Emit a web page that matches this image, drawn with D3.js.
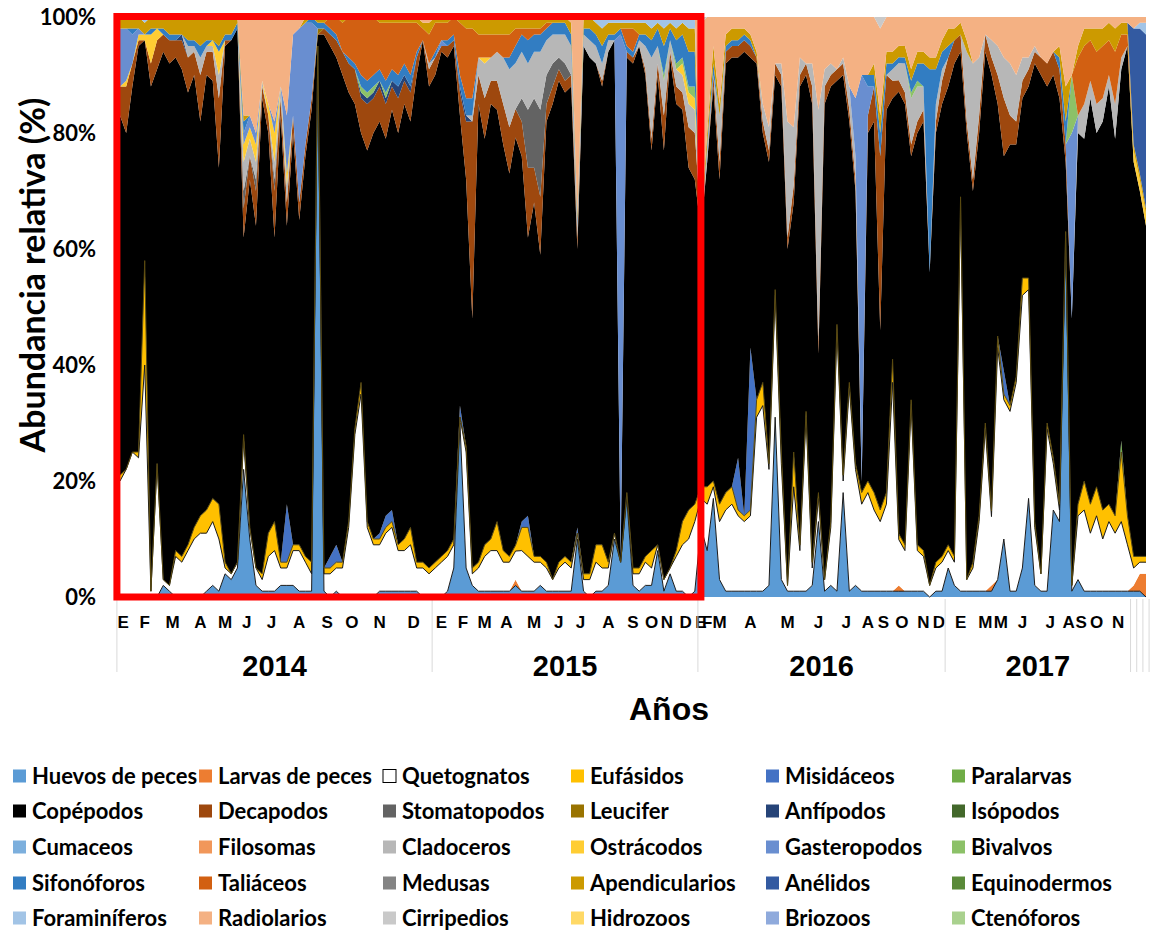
<!DOCTYPE html>
<html>
<head>
<meta charset="utf-8">
<script src="https://cdn.jsdelivr.net/npm/d3@7"></script>
<style>
  body { margin: 0; background: #fff; }
</style>
</head>
<body>
<div id="chart"></div>
<script>
const w = 1158;
const h = 932;

// ---- datos (% por muestra, 167 muestreos) ----
const huevosPeces = [
  0,0,0,0,0,0,0,2,1,0, 0,0,0,0,1,2,1,4,3,5, 22,10,2,1,1,1,2,2,2,1, 1,1,95,1,0,1,0,0,0,0,
  0,0,1,1,1,1,1,1,1,0, 0,0,0,1,5,30,5,2,1,1, 1,1,1,1,2,1,1,1,2,1, 1,1,1,1,10,1,0,1,1,2,
  10,6,17,2,1,2,2,8,1,4, 1,1,0,1,12,8,17,3,1,1, 1,1,1,1,1,2,31,3,1,1, 1,1,2,13,1,2,1,18,1,2,
  1,1,1,1,1,1,1,1,1,1, 1,0,1,1,5,2,1,1,1,1, 1,1,3,10,1,1,5,17,2,1, 1,15,13,62,1,3,1,1,1,1,
  1,1,1,1,1,1,0
];
const quetognatos = [
  20,22,25,24,40,1,23,1,1,7, 6,8,10,11,10,11,9,1,1,1, 5,2,3,2,6,7,3,3,6,7, 5,3,0,3,4,4,5,12,28,35,
  12,9,8,10,11,7,7,8,4,5, 4,5,6,6,4,1,20,2,4,6, 7,7,5,5,5,7,6,5,4,4, 2,4,5,4,1,2,3,5,4,3,
  1,0,1,2,3,4,3,1,2,1, 6,8,10,12,5,8,2,10,14,15, 13,12,13,30,32,20,21,20,1,18, 7,30,3,4,2,10,45,2,35,20,
  15,17,14,12,15,36,8,7,32,7, 6,2,4,5,3,4,67,2,4,12, 28,12,40,24,31,36,47,36,10,3, 28,8,2,1,1,11,14,10,13,9,
  12,10,12,8,3,2,2
];
const eufasidos = [
  1,0,0,1,18,0,0,0,0,1, 1,1,2,3,4,4,6,1,0,0, 1,0,0,1,4,5,1,1,1,1, 1,2,0,1,1,1,1,1,1,2,
  1,1,1,1,1,1,2,3,1,1, 1,1,1,1,1,0,1,1,1,2, 2,5,2,1,1,4,5,1,1,1, 0,1,1,1,0,1,1,3,4,1,
  0,0,0,1,1,1,3,0,0,0, 1,4,5,3,2,3,1,3,3,3, 1,1,1,3,4,1,1,2,0,6, 1,1,1,1,0,1,1,1,1,1,
  2,2,3,2,2,4,1,1,1,1, 1,0,1,1,1,1,1,0,1,1, 1,1,2,1,1,1,3,2,1,0, 1,1,1,0,0,2,5,5,5,5,
  3,3,12,5,2,1,1
];
const copepodos = [
  62,58,63,70,38,87,68,91,90,85, 84,78,78,68,75,72,58,89,92,92, 34,60,59,82,69,49,77,48,71,56, 69,78,2,92,88,84,84,74,56,43,
  64,70,71,65,69,71,75,70,84,90, 83,84,87,85,85,50,46,43,79,70, 75,71,70,66,71,63,48,61,52,76, 82,83,80,82,48,91,89,83,79,88,
  85,1,75,87,90,83,69,81,74,88, 77,71,59,56,44,56,68,56,74,74, 69,80,50,58,43,52,37,63,58,43, 79,58,79,24,82,75,42,69,45,47,
  2,60,64,31,66,45,77,76,42,71, 74,54,74,78,79,85,25,77,64,66, 64,76,40,37,45,40,31,33,79,86, 58,66,70,12,46,64,59,70,61,67,
  72,65,64,81,68,63,57
];
const decapodos = [
  5,8,4,1,0,4,5,3,4,3, 5,6,4,8,4,5,12,1,0,0, 5,4,6,2,3,8,3,4,3,3, 2,2,0,1,2,3,4,5,6,6,
  8,6,6,6,4,6,4,5,3,0, 3,3,1,2,1,4,10,34,5,7, 4,5,7,8,5,6,12,6,10,3, 3,2,2,2,2,0,0,0,1,0,
  0,0,1,1,0,1,2,2,6,1, 3,3,7,8,1,0,2,3,2,2, 2,2,2,1,2,2,2,2,2,3, 2,2,3,2,3,2,2,2,2,2,
  0,3,6,30,6,3,2,2,2,2, 2,0,2,4,5,4,3,2,2,3, 3,3,5,10,5,4,3,3,2,3, 4,4,5,3,0,0,0,0,0,0,
  0,0,0,0,0,0,0
];
const cladoceros = [
  0,0,0,0,0,0,0,0,0,0, 0,2,1,3,1,1,4,0,0,0, 5,3,3,1,0,3,2,3,0,0, 0,0,0,0,0,0,0,0,0,0,
  0,0,0,0,0,0,0,0,0,0, 1,0,0,0,0,0,0,1,3,6, 4,5,8,10,8,8,8,8,10,6, 5,4,5,5,2,2,3,3,3,2,
  0,0,0,0,1,4,14,3,6,2, 3,3,4,4,0,2,0,8,0,0, 0,0,0,0,3,4,0,2,20,10, 3,0,4,40,3,2,0,1,4,4,
  0,0,0,0,0,2,3,5,8,6, 4,0,3,2,0,0,0,12,20,10, 0,3,5,7,9,8,4,2,1,0, 0,0,0,0,0,3,6,3,5,4,
  2,6,2,0,0,0,0
];
const sifonoforos = [
  0,0,1,0,0,1,0,1,1,1, 0,1,1,2,1,0,1,1,1,1, 2,0,0,0,0,0,0,0,0,0, 0,1,1,1,1,1,0,1,1,2,
  2,2,2,2,2,2,2,2,1,0, 0,1,0,1,1,2,3,3,0,0, 0,0,0,2,3,3,4,3,3,2, 2,2,2,2,1,1,2,2,3,1,
  1,1,1,1,1,2,3,3,5,2, 4,4,6,6,0,1,2,0,1,1, 1,1,1,0,0,0,0,0,0,0, 0,0,0,0,0,0,0,0,0,0,
  0,2,2,4,2,1,1,1,2,3, 4,35,6,3,2,0,0,0,0,0, 0,0,0,0,0,0,0,0,0,0, 0,0,2,4,0,0,0,0,0,0,
  0,0,0,0,0,0,0
];
const taliaceos = [
  0,0,0,0,0,0,0,0,0,0, 0,0,0,0,0,0,0,0,0,0, 0,0,0,0,0,0,0,0,0,0, 0,0,0,0,2,3,5,7,8,10,
  11,10,8,10,8,9,7,9,5,2, 5,5,3,3,3,9,12,12,4,4, 4,3,4,4,3,1,2,1,1,1, 0,0,0,0,0,0,0,0,0,0,
  0,0,3,4,0,0,0,0,0,0, 0,0,0,0,0,0,0,0,0,0, 0,0,0,0,0,0,0,0,0,0, 0,0,0,0,0,0,0,0,0,0,
  0,0,0,0,0,0,0,0,0,0, 0,0,0,0,0,0,0,0,0,0, 0,0,0,0,0,0,0,0,0,0, 0,0,0,0,0,10,10,7,9,9,
  6,9,4,2,0,0,0
];
const apendicularios = [
  2,2,2,2,2,2,2,2,3,3, 3,4,4,5,4,4,5,3,3,1, 1,0,0,0,0,0,0,0,0,0, 1,0,1,1,0,0,1,0,0,0,
  0,0,1,1,1,1,1,1,1,1, 2,1,1,1,0,1,2,2,3,3, 3,3,3,3,2,2,2,2,2,1, 1,1,1,2,1,2,2,2,3,2,
  2,1,1,1,2,2,2,1,3,1, 2,2,4,4,1,2,3,2,2,2, 2,1,1,1,0,0,0,0,0,0, 0,0,0,0,0,0,0,0,0,0,
  0,0,2,3,2,2,2,2,2,2, 2,2,2,2,3,2,2,2,0,0, 0,0,0,0,0,0,0,0,0,0, 0,0,2,6,0,2,3,2,4,3,
  3,4,2,2,1,1,1
];
const radiolarios = [
  0,0,0,0,0,0,0,0,0,0, 0,0,0,0,0,0,0,0,0,0, 17,17,20,11,15,18,12,17,3,2, 0,0,0,0,0,0,0,0,0,0,
  0,0,0,0,0,0,0,0,0,1, 1,0,0,0,0,0,0,0,0,0, 0,0,0,0,0,0,0,0,0,0, 0,0,0,1,34,0,0,0,0,0,
  0,0,0,0,0,0,0,0,0,0, 0,0,0,0,34,20,5,15,3,2, 2,2,3,6,15,19,8,8,18,19, 7,8,8,16,9,8,9,7,12,14,
  10,10,8,15,6,6,5,5,9,6, 6,7,7,4,2,2,1,4,8,7, 3,4,5,7,8,10,7,7,5,7, 8,6,5,12,10,5,2,2,2,2,
  1,2,1,1,2,1,1
];

// grupos poco frecuentes: [muestra, %]
const larvasPeces = [[64,1],[126,1],[141,1],[164,1],[165,3],[166,4]];
const misidaceos = [[27,10],[34,2],[35,3],[42,1],[43,2],[44,2],[55,2],[65,1],[66,2],[74,1],[100,9],[102,28],[143,4]];
const paralarvas = [[162,2]];
const stomatopodos = [[20,3],[22,2],[25,2],[65,4],[66,10],[67,12],[68,15],[69,5],[70,4],[71,2],[72,3]];
const leucifer = [[32,1]];
const anfipodos = [[10,1],[39,1],[40,1],[41,1],[42,1],[43,1],[44,1],[45,2],[46,1],[47,1],[55,1],[56,1]];
const isopodos = [];
const cumaceos = [];
const filosomas = [];
const ostracodos = [[1,1],[3,1],[4,1],[5,5],[6,2],[15,1],[16,4],[20,3],[21,2],[22,3],[24,2],[25,5],[27,2],[59,1],[91,2],[92,2],[93,2],[164,2],[165,2],[166,2]];
const gasteropodos = [[0,10],[1,9],[2,5],[3,1],[20,2],[21,2],[22,2],[25,2],[27,10],[28,14],[29,30],[30,21],[31,13],[52,1],[81,90],[119,10],[120,70],[121,5],[154,32]];
const bivalvos = [[39,1],[40,1],[41,1],[43,1],[88,1],[90,1],[91,1],[92,1],[93,2],[128,1],[129,1],[154,10]];
const medusas = [];
const anelidos = [[164,20],[165,25],[166,30]];
const equinodermos = [];
const foraminiferos = [[4,1],[77,1],[78,2],[79,1],[80,1],[81,1],[82,1],[83,1],[84,1],[85,1],[86,2],[87,1],[88,2],[89,1],[90,2],[91,1],[92,2],[93,2],[165,1],[166,2]];
const cirripedios = [[94,1],[123,2]];
const hidrozoos = [];
const briozoos = [];
const ctenoforos = [];

// eje de categorias: meses (muestras por mes) y años
const meses = ['E','F','M','A','M','J','J','A','S','O','N','D',
               'E','F','M','A','M','J','J','A','S','O','N','D',
               'E','F','M','A','M','J','J','A','S','O','N','D',
               'E','M','M','J','J','A','S','O','N',
               '','',''];
const muestrasPorMes = [2,5,4,5,3,4,4,5,4,4,5,6,
                        3,4,3,4,5,3,4,5,3,3,2,4,
                        1,1,3,7,5,5,4,3,2,4,3,2,
                        5,3,2,5,4,2,2,3,4,
                        1,1,1];
const anios = ['2014','2015','2016','2017','','',''];
const mesesPorAnio = [12,12,12,9,1,1,1];

const N = huevosPeces.length;
const denso = pares => {
    const a = new Array(N).fill(0);
    pares.forEach(([i, v]) => { a[i] = v; });
    return a;
};

// orden de apilado = orden de la leyenda
const series = [
    { nombre: 'Huevos de peces', color: '#5B9BD5', valores: huevosPeces },
    { nombre: 'Larvas de peces', color: '#ED7D31', valores: denso(larvasPeces) },
    { nombre: 'Quetognatos', color: '#FFFFFF', valores: quetognatos },
    { nombre: 'Eufásidos', color: '#FFC000', valores: eufasidos },
    { nombre: 'Misidáceos', color: '#4472C4', valores: denso(misidaceos) },
    { nombre: 'Paralarvas', color: '#70AD47', valores: denso(paralarvas) },
    { nombre: 'Copépodos', color: '#000000', valores: copepodos },
    { nombre: 'Decapodos', color: '#9E480E', valores: decapodos },
    { nombre: 'Stomatopodos', color: '#636363', valores: denso(stomatopodos) },
    { nombre: 'Leucifer', color: '#997300', valores: denso(leucifer) },
    { nombre: 'Anfípodos', color: '#264478', valores: denso(anfipodos) },
    { nombre: 'Isópodos', color: '#43682B', valores: denso(isopodos) },
    { nombre: 'Cumaceos', color: '#7CAFDD', valores: denso(cumaceos) },
    { nombre: 'Filosomas', color: '#F1975A', valores: denso(filosomas) },
    { nombre: 'Cladoceros', color: '#B7B7B7', valores: cladoceros },
    { nombre: 'Ostrácodos', color: '#FFCD33', valores: denso(ostracodos) },
    { nombre: 'Gasteropodos', color: '#698ED0', valores: denso(gasteropodos) },
    { nombre: 'Bivalvos', color: '#8CC168', valores: denso(bivalvos) },
    { nombre: 'Sifonóforos', color: '#327DC2', valores: sifonoforos },
    { nombre: 'Taliáceos', color: '#D26012', valores: taliaceos },
    { nombre: 'Medusas', color: '#848484', valores: denso(medusas) },
    { nombre: 'Apendicularios', color: '#CC9A00', valores: apendicularios },
    { nombre: 'Anélidos', color: '#335AA1', valores: denso(anelidos) },
    { nombre: 'Equinodermos', color: '#5A8A39', valores: denso(equinodermos) },
    { nombre: 'Foraminíferos', color: '#A2C4E6', valores: denso(foraminiferos) },
    { nombre: 'Radiolarios', color: '#F4B183', valores: radiolarios },
    { nombre: 'Cirripedios', color: '#C9C9C9', valores: denso(cirripedios) },
    { nombre: 'Hidrozoos', color: '#FFD966', valores: denso(hidrozoos) },
    { nombre: 'Briozoos', color: '#8FAADC', valores: denso(briozoos) },
    { nombre: 'Ctenóforos', color: '#A9D18E', valores: denso(ctenoforos) }
];

const fuenteEje = "'Liberation Sans Narrow', 'Arial Narrow', 'Liberation Sans', Arial, sans-serif";
const fuenteCal = "Lato, 'Noto Sans', sans-serif";

const svg = d3.select('#chart')
    .append('svg')
    .attr('width', w)
    .attr('height', h)
    .style('background-color', '#fff');

const xScale = d3.scaleLinear()
    .domain([0, N - 1])
    .range([120, 1146]);

const yScale = d3.scaleLinear()
    .domain([0, 1])
    .range([597, 17]);

// 100% apilado
const filas = d3.range(N).map(i => {
    const f = {};
    series.forEach((s, k) => { f[k] = s.valores[i]; });
    return f;
});
const apilado = d3.stack()
    .keys(d3.range(series.length))
    .offset(d3.stackOffsetExpand)(filas);

const area = d3.area()
    .x((d, i) => xScale(i))
    .y0(d => yScale(d[0]))
    .y1(d => yScale(d[1]));

svg.append('g')
    .selectAll('path')
    .data(apilado)
    .enter()
    .append('path')
    .attr('d', area)
    .attr('fill', d => series[d.key].color);

// bordes oscuros de las series inferiores
const borde = d3.line()
    .x((d, i) => xScale(i))
    .y(d => yScale(d[1]));

svg.append('g')
    .selectAll('path')
    .data(apilado.filter(d => [0, 2, 3].includes(d.key)))
    .enter()
    .append('path')
    .attr('d', borde)
    .attr('fill', 'none')
    .attr('stroke', d => d.key === 3 ? '#5a4a10' : '#1a1a1a')
    .attr('stroke-width', 1);

// eje Y
const yAxis = d3.axisLeft(yScale)
    .tickValues([0, 0.2, 0.4, 0.6, 0.8, 1])
    .tickFormat(d3.format('.0%'))
    .tickSize(0)
    .tickPadding(21);

const gy = svg.append('g')
    .attr('transform', 'translate(117,0)')
    .call(yAxis);
gy.select('.domain').remove();
gy.selectAll('text')
    .style('font-family', fuenteCal)
    .style('font-weight', 'bold')
    .style('font-size', '22px')
    .attr('fill', '#000');

svg.append('text')
    .attr('transform', 'translate(45,275) rotate(-90)')
    .attr('text-anchor', 'middle')
    .style('font-family', fuenteCal)
    .style('font-weight', 'bold')
    .style('font-size', '34px')
    .text('Abundancia relativa (%)');

// eje X de categorias: meses y años
let inicio = 0;
const gruposMes = meses.map((m, k) => {
    const g = { etiqueta: m, desde: inicio, hasta: inicio + muestrasPorMes[k] - 1 };
    inicio += muestrasPorMes[k];
    return g;
});

let mesIni = 0;
const gruposAnio = anios.map((a, k) => {
    const ms = gruposMes.slice(mesIni, mesIni + mesesPorAnio[k]);
    mesIni += mesesPorAnio[k];
    return { etiqueta: a, desde: ms[0].desde, hasta: ms[ms.length - 1].hasta };
});

svg.append('g')
    .selectAll('text')
    .data(gruposMes)
    .enter()
    .append('text')
    .attr('x', d => xScale((d.desde + d.hasta) / 2))
    .attr('y', 628)
    .attr('text-anchor', 'middle')
    .style('font-family', fuenteEje)
    .style('font-weight', 'bold')
    .style('font-size', '17px')
    .text(d => d.etiqueta);

const cortes = gruposAnio.map(d => d.desde - 0.5).concat([N - 0.5]);
svg.append('g')
    .selectAll('line')
    .data(cortes)
    .enter()
    .append('line')
    .attr('x1', d => xScale(d))
    .attr('x2', d => xScale(d))
    .attr('y1', 599)
    .attr('y2', 672)
    .attr('stroke', '#d9d9d9')
    .attr('stroke-width', 1);

svg.append('g')
    .selectAll('text')
    .data(gruposAnio.filter(d => d.etiqueta !== ''))
    .enter()
    .append('text')
    .attr('x', d => (xScale(d.desde - 0.5) + xScale(d.hasta + 0.5)) / 2)
    .attr('y', 676)
    .attr('text-anchor', 'middle')
    .style('font-family', fuenteEje)
    .style('font-weight', 'bold')
    .style('font-size', '29px')
    .text(d => d.etiqueta);

svg.append('text')
    .attr('x', 669)
    .attr('y', 720)
    .attr('text-anchor', 'middle')
    .style('font-family', fuenteEje)
    .style('font-weight', 'bold')
    .style('font-size', '32px')
    .text('Años');

// recuadro rojo 2014-2015
svg.append('rect')
    .attr('x', xScale(-0.5))
    .attr('y', yScale(1) - 0.5)
    .attr('width', xScale(93.5) - xScale(-0.5) + 3)
    .attr('height', yScale(0) - yScale(1) + 0.5)
    .attr('fill', 'none')
    .attr('stroke', '#FF0000')
    .attr('stroke-width', 7);

// leyenda 6 x 5
const colX = [13, 199, 383, 571, 766, 952];
const filaY = [776, 811, 847, 883, 918];

const leyenda = svg.append('g')
    .selectAll('g')
    .data(series)
    .enter()
    .append('g')
    .attr('transform', (d, i) => 'translate(' + colX[i % 6] + ',' + filaY[Math.floor(i / 6)] + ')');

leyenda.append('rect')
    .attr('x', 0)
    .attr('y', -6.5)
    .attr('width', 13)
    .attr('height', 13)
    .attr('fill', d => d.color)
    .attr('stroke', d => d.color === '#FFFFFF' ? '#000' : 'none')
    .attr('stroke-width', 1);

leyenda.append('text')
    .attr('x', 19)
    .attr('y', 7.5)
    .style('font-family', fuenteCal)
    .style('font-weight', 'bold')
    .style('font-size', '22px')
    .text(d => d.nombre);
</script>
</body>
</html>
